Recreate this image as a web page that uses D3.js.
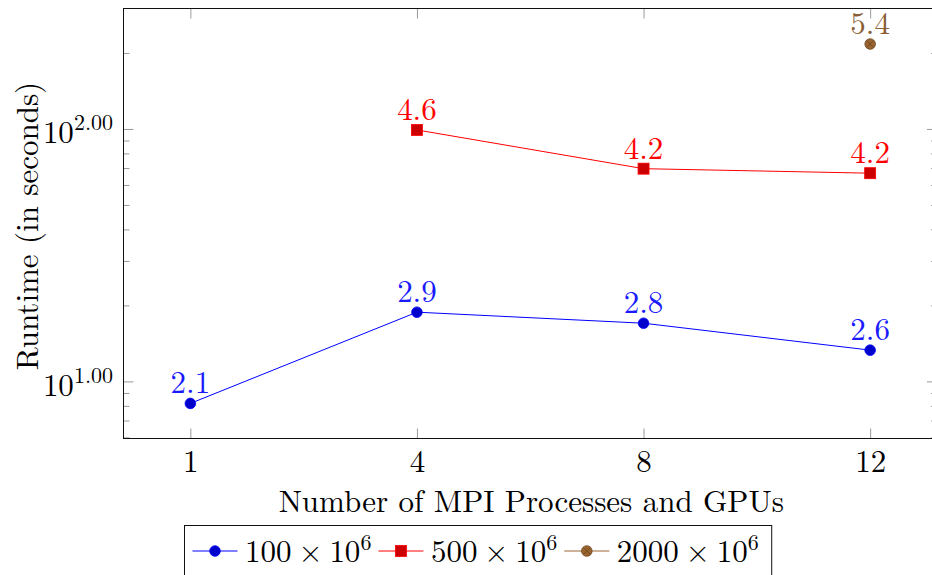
<!DOCTYPE html>
<html>
<head>
<meta charset="utf-8">
<script src="https://cdn.jsdelivr.net/npm/d3@7"></script>
<style>
  body { margin: 0; background: #fff; }
  svg { display: block; }
</style>
</head>
<body>
<div id="plot"></div>
<script>
// runtimes in seconds
const procs = ["1", "4", "8", "12"];
const run100 = [8.18, 18.8, 17.0, 13.3];
const run500 = [null, 99.1, 69.6, 66.8];
const run2000 = [null, null, null, 217];
const sizes = ["100", "500", "2000"];
const yMajor = [10, 100];
const yMinor = [6, 7, 8, 9, 20, 30, 40, 50, 60, 70, 80, 90, 200];

const w = 932;
const h = 575;
const m = {left: 123.5, right: 937, top: 8.5, bottom: 438.5};
const fs = 31;
const fsSup = 22;

const series = [
  {name: sizes[0], vals: run100, line: "#0000ff", fill: "#0000cc", stroke: "#0000ff", text: "#1a1aff", mark: "circle"},
  {name: sizes[1], vals: run500, line: "#ff0000", fill: "#cc0000", stroke: "#ff0000", text: "#ff0000", mark: "square"},
  {name: sizes[2], vals: run2000, line: "#996633", fill: "#9a6430", stroke: "#6b4520", text: "#8a5e34", mark: "otimes"}
];

const svg = d3.select("#plot")
  .append("svg")
  .attr("width", w)
  .attr("height", h)
  .style("font-family", '"Latin Modern Roman", "Liberation Serif", serif');

const x = d3.scalePoint().domain(procs).range([m.left, m.right]).padding(0.295);
const y = d3.scaleLog().domain([5.94, 300]).range([m.bottom, m.top]);

const tickCol = "#9a9a9a";

//-------------------------axes-------------------------------
function styleAxis(g) {
  g.attr("font-family", null).attr("font-size", fs);
  g.select(".domain").remove();
  g.selectAll(".tick line").attr("stroke", tickCol).attr("stroke-width", 1);
}

// bottom + top (ticks pointing in)
const xb = svg.append("g")
  .attr("transform", `translate(0,${m.bottom})`)
  .call(d3.axisBottom(x).tickSize(-10))
  .call(styleAxis);
xb.selectAll("text").attr("y", 33.5).attr("dy", null).attr("fill", "#000");

svg.append("g")
  .attr("transform", `translate(0,${m.top})`)
  .call(d3.axisTop(x).tickSize(-10).tickFormat(""))
  .call(styleAxis);

// left: major + minor
const yl = svg.append("g")
  .attr("transform", `translate(${m.left},0)`)
  .call(d3.axisLeft(y).tickValues(yMajor).tickSize(-10))
  .call(styleAxis);
svg.append("g")
  .attr("transform", `translate(${m.left},0)`)
  .call(d3.axisLeft(y).tickValues(yMinor).tickSize(-6).tickFormat(""))
  .call(styleAxis);

yl.selectAll("text")
  .attr("x", -10.5)
  .attr("y", 14)
  .attr("dy", null)
  .attr("fill", "#000")
  .each(function(d) {
    const t = d3.select(this).text("");
    t.append("tspan").text("10");
    t.append("tspan")
      .attr("font-size", fsSup)
      .attr("dy", -13)
      .text(d3.format(".2f")(Math.log10(d)));
  });

// right: mirrored ticks
svg.append("g")
  .attr("transform", `translate(${m.right},0)`)
  .call(d3.axisRight(y).tickValues(yMajor).tickSize(-10).tickFormat(""))
  .call(styleAxis);
svg.append("g")
  .attr("transform", `translate(${m.right},0)`)
  .call(d3.axisRight(y).tickValues(yMinor).tickSize(-6).tickFormat(""))
  .call(styleAxis);

// frame
svg.append("rect")
  .attr("x", m.left)
  .attr("y", m.top)
  .attr("width", m.right - m.left)
  .attr("height", m.bottom - m.top)
  .attr("fill", "none")
  .attr("stroke", "#111")
  .attr("stroke-width", 1);

// axis titles
svg.append("text")
  .attr("x", (m.left + m.right) / 2 + 1)
  .attr("y", 512)
  .attr("text-anchor", "middle")
  .attr("font-size", fs)
  .text("Number of MPI Processes and GPUs");

svg.append("text")
  .attr("transform", "translate(38,226) rotate(-90)")
  .attr("text-anchor", "middle")
  .attr("font-size", fs)
  .text("Runtime (in seconds)");

//-------------------------marks-------------------------------
function drawMarker(g, s, cx, cy) {
  if (s.mark === "circle") {
    g.append("circle").attr("cx", cx).attr("cy", cy).attr("r", 5.3)
      .attr("fill", s.fill).attr("stroke", s.stroke).attr("stroke-width", 0.8);
  } else if (s.mark === "square") {
    g.append("rect").attr("x", cx - 5.5).attr("y", cy - 5.5).attr("width", 11).attr("height", 11)
      .attr("fill", s.fill).attr("stroke", s.stroke).attr("stroke-width", 0.8);
  } else {
    g.append("circle").attr("cx", cx).attr("cy", cy).attr("r", 5.3)
      .attr("fill", s.fill).attr("stroke", s.stroke).attr("stroke-width", 0.8);
    const r = 3.7;
    g.append("path")
      .attr("d", `M${cx - r},${cy - r}L${cx + r},${cy + r}M${cx - r},${cy + r}L${cx + r},${cy - r}`)
      .attr("stroke", s.stroke).attr("stroke-width", 0.8);
  }
}

const line = d3.line()
  .defined(d => d.v != null)
  .x(d => x(d.p))
  .y(d => y(d.v));

series.forEach(s => {
  const pts = procs.map((p, i) => ({p: p, v: s.vals[i]}));
  const g = svg.append("g");
  g.append("path")
    .datum(pts)
    .attr("d", line)
    .attr("fill", "none")
    .attr("stroke", s.line)
    .attr("stroke-width", 1);

  pts.filter(d => d.v != null).forEach(d => {
    drawMarker(g, s, x(d.p), y(d.v));
    g.append("text")
      .attr("x", x(d.p))
      .attr("y", y(d.v) - 10)
      .attr("text-anchor", "middle")
      .attr("font-size", fs)
      .attr("fill", s.text)
      .text(d3.format(".1f")(Math.log(d.v)));
  });
});

//-------------------------legend-------------------------------
const legend = svg.append("g").attr("id", "legend");
const boxX = 184.5;
const box = legend.append("rect")
  .attr("x", boxX)
  .attr("y", 525.5)
  .attr("height", 80)
  .attr("fill", "#fff")
  .attr("stroke", "#111")
  .attr("stroke-width", 1);

let cur = boxX + 8;
const ly = 551;
const mathSp = 0.222 * fs;
series.forEach(s => {
  legend.append("line")
    .attr("x1", cur).attr("x2", cur + 45)
    .attr("y1", ly).attr("y2", ly)
    .attr("stroke", s.line).attr("stroke-width", 1);
  drawMarker(legend, s, cur + 22.5, ly);
  const t = legend.append("text")
    .attr("x", cur + 52.5)
    .attr("y", 562)
    .attr("font-size", fs);
  t.append("tspan").text(s.name);
  t.append("tspan").attr("dx", mathSp).text("\u00d7");
  t.append("tspan").attr("dx", mathSp).text("10");
  t.append("tspan").attr("font-size", fsSup).attr("dy", -12).text("6");
  const bb = t.node().getBBox();
  cur = bb.x + bb.width + 7;
});
box.attr("width", cur - 7 + 13 - boxX);
</script>
</body>
</html>
